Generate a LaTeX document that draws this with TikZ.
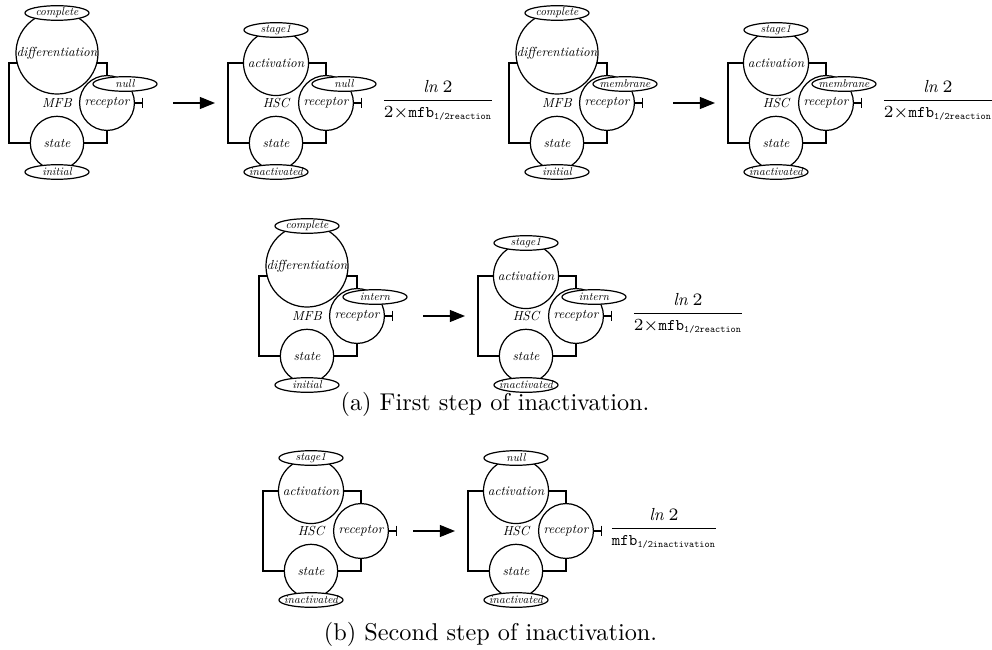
\documentclass[tikz,border=0pt]{standalone}
\usepackage{fontspec}
\usetikzlibrary{shapes.geometric,arrows.meta}
\newfontfamily\lmit{lmroman10-italic}[Extension=.otf]
\newfontfamily\lmtt{lmmono10-regular}[Extension=.otf]
\newcommand\fmain{\fontsize{5.4}{6.5}\selectfont\lmit}
\newcommand\fsmall{\fontsize{4.7}{5.5}\selectfont\lmit}
\newcommand\ffrac{\fontsize{6.7}{8}\selectfont}
\newcommand\numer{\hbox{\fontsize{7.2}{8.5}\selectfont\lmit ln\;\normalfont 2}}
\newcommand\subsc[1]{\hbox{\fontsize{4.05}{5}\selectfont\lmtt #1}}
\tikzset{
  mc/.style={circle,draw,line width=0.5pt,inner sep=0pt},
  bigc/.style={mc,minimum size=33.8pt},
  midc/.style={mc,minimum size=26.8pt},
  smc/.style={mc,minimum size=22pt},
  recc/.style={mc,minimum size=22.6pt},
  oval/.style={ellipse,draw,fill=white,line width=0.5pt,inner sep=0pt,minimum width=26.4pt,minimum height=6pt},
  lab/.style={font=\fmain,inner sep=0pt},
  olab/.style={font=\fsmall,inner sep=0pt},
  wire/.style={line width=0.5pt},
  inhib/.style={line width=0.5pt,-{Bar[width=4.5pt,line width=0.5pt]}},
  react/.style={line width=0.5pt,-{Triangle[length=6.2pt,width=4.9pt]}},
  fracnode/.style={font=\ffrac,anchor=base,inner sep=0pt},
  capt/.style={font=\normalsize,anchor=base,inner sep=0pt},
}
% MFB module: #1 prefix, #2 x, #3 y, #4 receptor state
\newcommand\MFBmod[4]{%
\begin{scope}[shift={(#2,#3)}]
 \node[bigc,label={[lab]center:differentiation}] (#1d) at (0,-50) {};
 \node[lab] (#1h) at (0,0) {MFB};
 \node[recc,label={[lab]center:receptor}] (#1r) at (50,0) {};
 \node[smc,label={[lab]center:state}] (#1s) at (0,40) {};
 \node[oval,label={[olab]center:complete}] (#1e1) at (0,-90) {};
 \node[oval,label={[olab]center:#4}] (#1e2) at (68,-19) {};
 \node[oval,label={[olab]center:initial}] (#1e3) at (0,69) {};
 \coordinate (#1L) at (-48,0);
 \coordinate (#1T) at (86,0);
 \draw[wire] (#1d.194) -| (#1L) |- (#1s.west);
 \draw[wire] (#1d.346) -| (#1r.north);
 \draw[wire] (#1s.east) -| (#1r.south);
 \draw[inhib] (#1r.east) -- (#1T);
\end{scope}}
% HSC module: #1 prefix, #2 x, #3 y, #4 top state, #5 receptor state (may be empty)
\newcommand\HSCmod[5]{%
\begin{scope}[shift={(#2,#3)}]
 \node[midc,label={[lab]center:activation}] (#1a) at (0,-40) {};
 \node[lab] (#1h) at (0,0) {HSC};
 \node[recc,label={[lab]center:receptor}] (#1r) at (50,0) {};
 \node[smc,label={[lab]center:state}] (#1s) at (0,40) {};
 \node[oval,label={[olab]center:#4}] (#1e1) at (0,-73) {};
 \def\tmprec{#5}%
 \ifx\tmprec\empty\else
 \node[oval,label={[olab]center:#5}] (#1e2) at (68,-19) {};
 \fi
 \node[oval,label={[olab]center:inactivated}] (#1e3) at (0,69) {};
 \coordinate (#1L) at (-48,0);
 \coordinate (#1T) at (86,0);
 \draw[wire] (#1a.west) -| (#1L) |- (#1s.west);
 \draw[wire] (#1a.east) -| (#1r.north);
 \draw[wire] (#1s.east) -| (#1r.south);
 \draw[inhib] (#1r.east) -- (#1T);
\end{scope}}
\begin{document}
\begin{tikzpicture}[x=0.412pt,y=-0.412pt]
\useasboundingbox (0,0) rectangle (992,650);
% row 1
\MFBmod{m1}{57}{103}{null}
\HSCmod{m2}{276}{103}{stage1}{null}
\MFBmod{m3}{557}{103}{membrane}
\HSCmod{m4}{776}{103}{stage1}{membrane}
% row 2
\MFBmod{m5}{307}{316}{intern}
\HSCmod{m6}{526}{316}{stage1}{intern}
% row 3
\HSCmod{m7}{311}{531}{stage1}{}
\HSCmod{m8}{516}{531}{null}{}
% reaction arrows
\coordinate (r1a) at (173,103); \coordinate (r1b) at (215,103);
\coordinate (r2a) at (673,103); \coordinate (r2b) at (715,103);
\coordinate (r3a) at (423,316); \coordinate (r3b) at (465,316);
\coordinate (r4a) at (413,531); \coordinate (r4b) at (455,531);
\draw[react] (r1a) -- (r1b);
\draw[react] (r2a) -- (r2b);
\draw[react] (r3a) -- (r3b);
\draw[react] (r4a) -- (r4b);
% rates
\node[fracnode] (f1) at (438,104.5) {$\displaystyle\frac{\numer}{2{\times}\hbox{\lmtt mfb}_{\subsc{1/2reaction}}}$};
\node[fracnode] (f2) at (938,104.5) {$\displaystyle\frac{\numer}{2{\times}\hbox{\lmtt mfb}_{\subsc{1/2reaction}}}$};
\node[fracnode] (f3) at (688,317.5) {$\displaystyle\frac{\numer}{2{\times}\hbox{\lmtt mfb}_{\subsc{1/2reaction}}}$};
\node[fracnode] (f4) at (664,532.5) {$\displaystyle\frac{\numer}{\hbox{\lmtt mfb}_{\subsc{1/2inactivation}}}$};
% captions
\node[capt] (ca) at (495,410) {(a) First step of inactivation.};
\node[capt] (cb) at (490.5,640) {(b) Second step of inactivation.};
\end{tikzpicture}
\end{document}
